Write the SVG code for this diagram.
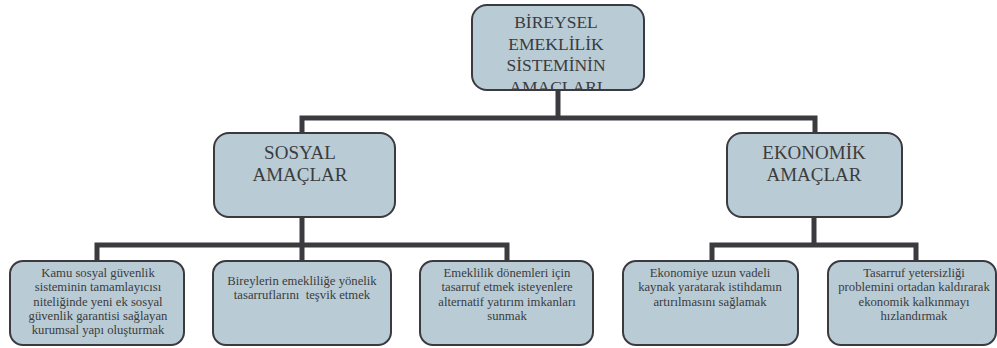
<svg xmlns="http://www.w3.org/2000/svg" width="997" height="348" viewBox="0 0 997 348">
<style>
.box{fill:#b9cbd5;stroke:#3a3a3f;stroke-width:2}
.conn{fill:none;stroke:#3a3a3f;stroke-width:5;stroke-linejoin:miter;stroke-linecap:butt}
text{font-family:'Liberation Serif','DejaVu Serif',serif;fill:#3c3c3c;text-anchor:middle}
.t0{font-size:17.5px}
.t1{font-size:19px}
.t2{font-size:12.7px}
</style>
<defs>
<clipPath id="rootclip"><rect x="473" y="6" width="170" height="83" rx="14"/></clipPath>
</defs>
<rect width="997" height="348" fill="#ffffff"/>
<g id="connectors">
<path class="conn" d="M558 90 V118 M302 133 V118 H815 V133"/>
<path class="conn" d="M302 216 V245 M97 261 V245 H507 V261 M302 245 V261"/>
<path class="conn" d="M814 216 V245 M712 261 V245 H916 V261"/>
</g>
<g font-family="'Liberation Serif','DejaVu Serif',serif">
<g id="root">
<rect class="box" x="472" y="5" width="172" height="85" rx="15"/>
<g clip-path="url(#rootclip)">
<text class="t0" x="556" y="28">BİREYSEL</text>
<text class="t0" x="556" y="49.5">EMEKLİLİK</text>
<text class="t0" x="556" y="71">SİSTEMİNİN</text>
<text class="t0" x="556" y="92.5">AMAÇLARI</text>
</g>
</g>
<g id="sosyal">
<rect class="box" x="214" y="133" width="181" height="84" rx="15"/>
<text class="t1" x="300" y="159">SOSYAL</text>
<text class="t1" x="300" y="181">AMAÇLAR</text>
</g>
<g id="ekonomik">
<rect class="box" x="727" y="133" width="175" height="84" rx="15"/>
<text class="t1" x="814" y="159">EKONOMİK</text>
<text class="t1" x="814" y="181">AMAÇLAR</text>
</g>
<g id="leaf1">
<rect class="box" x="10" y="261" width="174" height="84" rx="13"/>
<text class="t2" x="98" y="277">Kamu sosyal güvenlik</text>
<text class="t2" x="98" y="291.3">sisteminin tamamlayıcısı</text>
<text class="t2" x="98" y="305.6">niteliğinde yeni ek sosyal</text>
<text class="t2" x="98" y="319.9">güvenlik garantisi sağlayan</text>
<text class="t2" x="98" y="334.2">kurumsal yapı oluşturmak</text>
</g>
<g id="leaf2">
<rect class="box" x="213" y="261" width="178" height="84" rx="13"/>
<text class="t2" x="302" y="285">Bireylerin emekliliğe yönelik</text>
<text class="t2" x="302" y="299.3" xml:space="preserve">tasarruflarını  teşvik etmek</text>
</g>
<g id="leaf3">
<rect class="box" x="420" y="261" width="173" height="84" rx="13"/>
<text class="t2" x="507" y="277">Emeklilik dönemleri için</text>
<text class="t2" x="507" y="291.3">tasarruf etmek isteyenlere</text>
<text class="t2" x="507" y="305.6">alternatif yatırım imkanları</text>
<text class="t2" x="507" y="320">sunmak</text>
</g>
<g id="leaf4">
<rect class="box" x="623" y="261" width="175" height="84" rx="13"/>
<text class="t2" x="710" y="277">Ekonomiye uzun vadeli</text>
<text class="t2" x="710" y="291.3">kaynak yaratarak istihdamın</text>
<text class="t2" x="710" y="305.6">artırılmasını sağlamak</text>
</g>
<g id="leaf5">
<rect class="box" x="828" y="261" width="168" height="84" rx="13"/>
<text class="t2" x="914" y="277">Tasarruf yetersizliği</text>
<text class="t2" x="914" y="291.3">problemini ortadan kaldırarak</text>
<text class="t2" x="914" y="305.6">ekonomik kalkınmayı</text>
<text class="t2" x="914" y="320">hızlandırmak</text>
</g>
</g>
</svg>
